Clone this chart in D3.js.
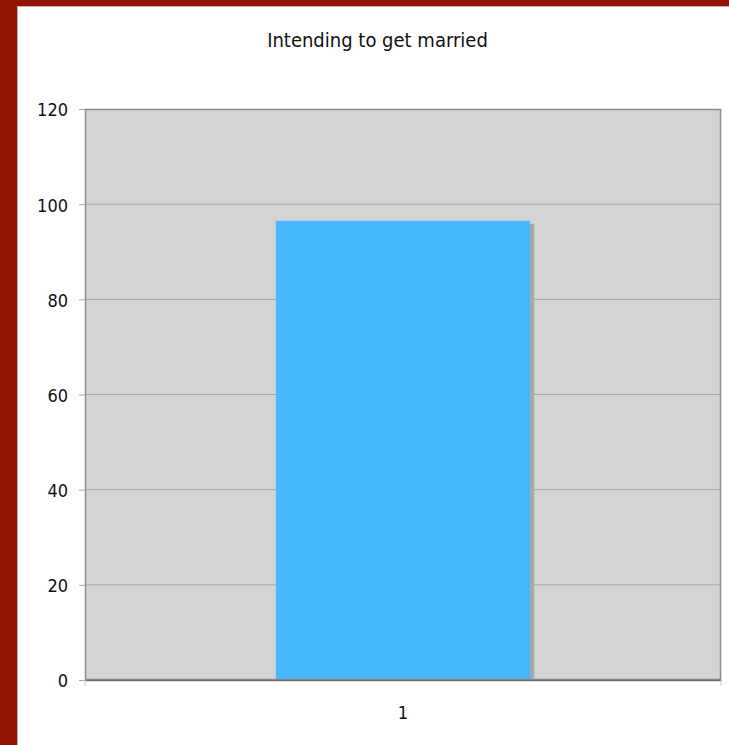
<!DOCTYPE html>
<html><head><meta charset="utf-8">
<script src="https://cdn.jsdelivr.net/npm/d3@7"></script>
<style>
html,body{margin:0;padding:0;background:#fff;}
text{font-family:"DejaVu Sans Condensed","DejaVu Sans",sans-serif;fill:#111;}
</style></head>
<body>
<svg id="c" width="729" height="745"></svg>
<script>
const title = "Intending to get married";
const categories = ["1"];
const values = [96.5];
const yTicks = [0, 20, 40, 60, 80, 100, 120];

const svg = d3.select("#c");
const W = 729, H = 745;
const FONT = "'DejaVu Sans Condensed','DejaVu Sans',sans-serif";
// frame
svg.append("rect").attr("x",0).attr("y",0).attr("width",W).attr("height",H).attr("fill","#921400");
svg.append("rect").attr("x",17).attr("y",6).attr("width",W-17).attr("height",H-6).attr("fill","#b8b8b8");
svg.append("rect").attr("x",18).attr("y",7).attr("width",W-18).attr("height",H-7).attr("fill","#fff");

const m = {left:85, right:721, top:109, bottom:680};
const x = d3.scaleBand().domain(categories).range([m.left, m.right]).paddingInner(0.6).paddingOuter(0.3);
const y = d3.scaleLinear().domain([0,120]).range([m.bottom, m.top]);

svg.append("text").attr("x",377.5).attr("y",47).attr("text-anchor","middle").attr("font-size",20)
  .attr("fill","#1a1a1a").text(title);

svg.append("rect").attr("x",m.left).attr("y",m.top).attr("width",m.right-m.left).attr("height",m.bottom-m.top)
  .attr("fill","#d4d4d4");

// gridlines
svg.append("g").selectAll("line").data(yTicks.filter(d=>d>0 && d<120)).join("line")
  .attr("x1",m.left).attr("x2",m.right).attr("y1",d=>y(d)).attr("y2",d=>y(d))
  .attr("stroke","#a8a8a8").attr("stroke-width",1);

// bar shadow
svg.append("g").selectAll("rect").data(values).join("rect")
  .attr("x",(d,i)=>x(categories[i])+4).attr("y",d=>y(d)+3)
  .attr("width",x.bandwidth()).attr("height",d=>m.bottom-y(d)-3)
  .attr("fill","#a9a9a9");
// bars
svg.append("g").selectAll("rect").data(values).join("rect")
  .attr("x",(d,i)=>x(categories[i])).attr("y",d=>y(d))
  .attr("width",x.bandwidth()).attr("height",d=>m.bottom-y(d))
  .attr("fill","#48b8fe");

// plot border
svg.append("rect").attr("x",m.left+0.5).attr("y",m.top+0.5).attr("width",m.right-m.left-1).attr("height",m.bottom-m.top-1)
  .attr("fill","none").attr("stroke","#8c8c8c").attr("stroke-width",1.5);

// y axis
const ya = d3.axisLeft(y).tickValues(yTicks).tickSize(6).tickPadding(11);
const gy = svg.append("g").attr("transform",`translate(${m.left},0)`).call(ya);
gy.select(".domain").attr("stroke","#8c8c8c");
gy.selectAll(".tick line").attr("stroke","#a8a8a8");
gy.selectAll("text").attr("font-size",18).attr("dy","0.38em").attr("fill","#111").style("font-family",FONT);

// x axis
const xa = d3.axisBottom(x).tickSize(0).tickPadding(26);
const gx = svg.append("g").attr("transform",`translate(0,${m.bottom})`).call(xa);
gx.select(".domain").attr("stroke","#6e6e6e").attr("stroke-width",1.5);
gx.selectAll("text").attr("font-size",18).attr("fill","#111").style("font-family",FONT);
// edge tick marks
svg.append("g").selectAll("line").data([m.left, m.right]).join("line")
  .attr("x1",d=>d).attr("x2",d=>d).attr("y1",m.bottom).attr("y2",m.bottom+6).attr("stroke","#c8c8c8");
</script>
</body></html>
